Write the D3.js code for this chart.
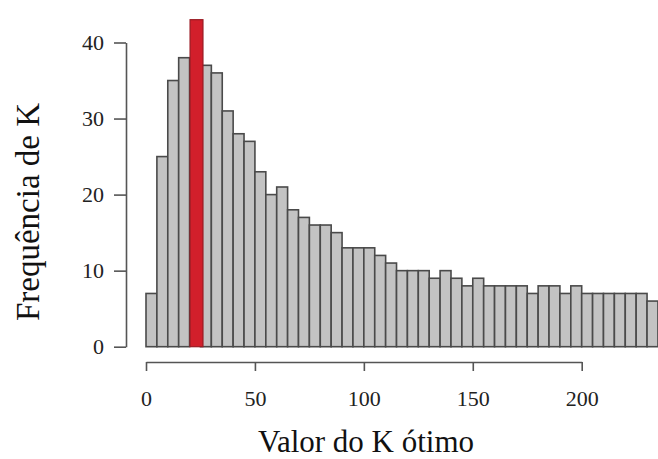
<!DOCTYPE html>
<html>
<head>
<meta charset="utf-8">
<script src="https://cdn.jsdelivr.net/npm/d3@7"></script>
<style>
  html, body { margin: 0; padding: 0; background: #fff; }
  svg { display: block; }
  .tick text { font-family: "Liberation Serif", "Times New Roman", serif; fill: #222; }
</style>
</head>
<body>
<svg id="chart" width="658" height="459"></svg>
<script>
// Histogram of the optimal K: bin starts (width 5) and their frequencies
const binWidth = 5;
const binStarts = [0, 5, 10, 15, 20, 25, 30, 35, 40, 45, 50, 55, 60, 65, 70, 75, 80, 85, 90, 95,
  100, 105, 110, 115, 120, 125, 130, 135, 140, 145, 150, 155, 160, 165, 170, 175, 180, 185, 190, 195,
  200, 205, 210, 215, 220, 225, 230];
const frequencies = [7, 25, 35, 38, 43, 37, 36, 31, 28, 27, 23, 20, 21, 18, 17, 16, 16, 15, 13, 13,
  13, 12, 11, 10, 10, 10, 9, 10, 9, 8, 9, 8, 8, 8, 8, 7, 8, 8, 7, 8,
  7, 7, 7, 7, 7, 7, 6];
const highlightStart = 20;            // most frequent K, drawn in red
const xTicks = [0, 50, 100, 150, 200];
const yTicks = [0, 10, 20, 30, 40];
const xTitle = "Valor do K ótimo";
const yTitle = "Frequência de K";

const svg = d3.select("#chart");

const x = d3.scaleLinear().domain([0, 200]).range([146, 581.7]);
const y = d3.scaleLinear().domain([0, 40]).range([346.7, 42.5]);

const bins = binStarts.map((s, i) => ({ start: s, count: frequencies[i] }));

// grey bars first, highlighted bin on top
svg.append("g")
  .selectAll("rect")
  .data(bins.filter(d => d.start !== highlightStart))
  .join("rect")
  .attr("x", d => x(d.start))
  .attr("y", d => y(d.count))
  .attr("width", d => x(d.start + binWidth) - x(d.start))
  .attr("height", d => y(0) - y(d.count))
  .attr("fill", "#c3c3c3")
  .attr("stroke", "#4a4a4a")
  .attr("stroke-width", 1.6);

svg.append("g")
  .selectAll("rect")
  .data(bins.filter(d => d.start === highlightStart))
  .join("rect")
  .attr("x", d => x(d.start) + 0.5)
  .attr("y", d => y(d.count))
  .attr("width", d => x(d.start + binWidth) - x(d.start) + 2)
  .attr("height", d => y(0) - y(d.count))
  .attr("fill", "#d21f2b")
  .attr("stroke", "#9a1a22")
  .attr("stroke-width", 1.2);

// axes, detached from the plot area in base-graphics style
const xAxis = svg.append("g")
  .attr("transform", "translate(0,362)")
  .call(d3.axisBottom(x).tickValues(xTicks).tickSize(9).tickSizeOuter(0).tickPadding(19));
xAxis.selectAll("text").attr("font-size", 22);

const yAxis = svg.append("g")
  .attr("transform", "translate(126,0)")
  .call(d3.axisLeft(y).tickValues(yTicks).tickSize(12).tickSizeOuter(0).tickPadding(10));
yAxis.selectAll("text").attr("font-size", 22);

svg.selectAll(".domain, .tick line")
  .attr("stroke", "#555")
  .attr("stroke-width", 1.6);

// axis titles
svg.append("text")
  .attr("x", 366)
  .attr("y", 452)
  .attr("text-anchor", "middle")
  .attr("font-family", "Liberation Serif, Times New Roman, serif")
  .attr("font-size", 31)
  .attr("fill", "#111")
  .text(xTitle);

svg.append("text")
  .attr("transform", "translate(39,212) rotate(-90)")
  .attr("text-anchor", "middle")
  .attr("font-family", "Liberation Serif, Times New Roman, serif")
  .attr("font-size", 33)
  .attr("fill", "#111")
  .text(yTitle);
</script>
</body>
</html>
